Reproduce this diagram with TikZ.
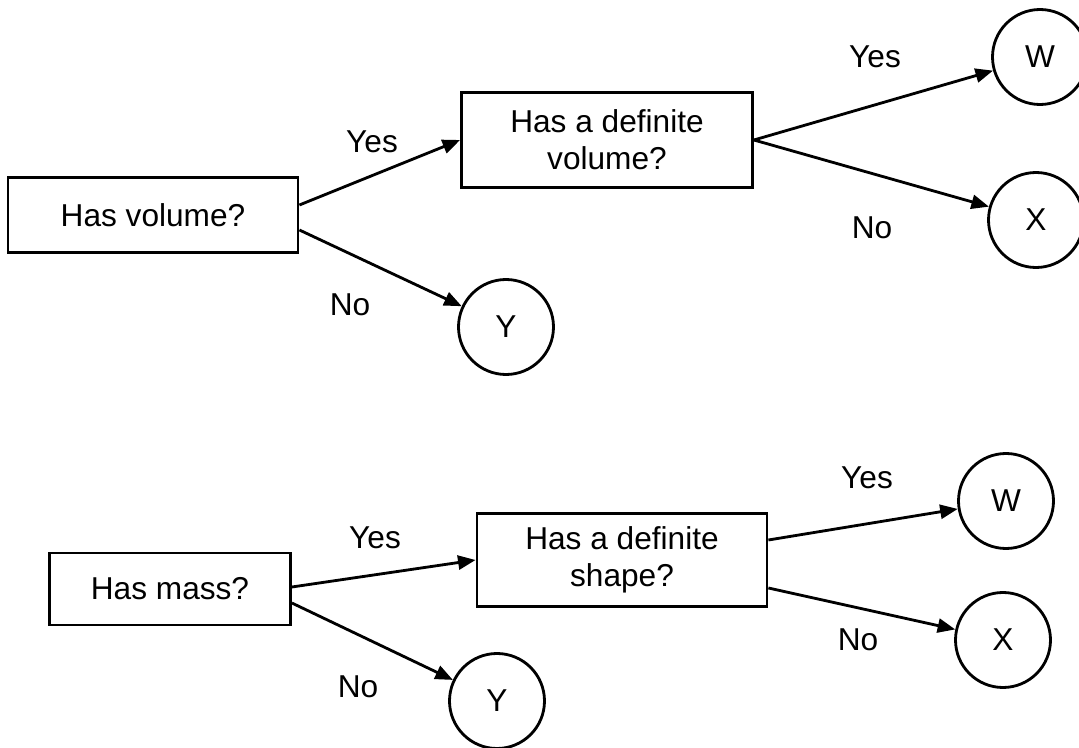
\documentclass[tikz,border=0pt]{standalone}
\usepackage{fontspec}
\setmainfont{Liberation Sans}
\usetikzlibrary{arrows.meta}
\tikzset{
  question/.style={draw,line width=0.8pt,minimum height=#1,inner sep=2pt,align=center},
  leaf/.style={draw,circle,line width=0.8pt,minimum size=0.95cm,inner sep=0pt},
  branch/.style={line width=0.8pt,-{Triangle[length=5pt,width=4pt]}},
  answer/.style={inner sep=1pt}
}
\begin{document}
\begin{tikzpicture}[font=\fontsize{9pt}{10.5pt}\selectfont]
    \useasboundingbox (0,0) rectangle (10.79,7.47);
    %first tree: volume
    \node[question=0.75cm,minimum width=2.90cm] (vol) at (1.53,5.32) {Has volume?};
    \node[question=0.95cm,minimum width=2.91cm] (defvol) at (6.07,6.07) {Has a definite\\volume?};
    \node[leaf] (w1) at (10.40,6.90) {W};
    \node[leaf] (x1) at (10.36,5.27) {X};
    \node[leaf] (y1) at (5.06,4.20) {Y};
    \draw[branch] ([yshift=0.10cm]vol.east) -- (defvol.west);
    \draw[branch] ([yshift=-0.15cm]vol.east) -- (y1);
    \draw[branch] (defvol.east) -- (w1);
    \draw[branch] (defvol.east) -- (x1);
    \node[answer] (yes1) at (3.72,6.05) {Yes};
    \node[answer] (no1) at (3.50,4.42) {No};
    \node[answer] (yes2) at (8.75,6.90) {Yes};
    \node[answer] (no2) at (8.72,5.19) {No};
    %second tree: mass
    \node[question=0.72cm,minimum width=2.41cm] (mass) at (1.70,1.58) {Has mass?};
    \node[question=0.93cm,minimum width=2.90cm] (defshape) at (6.22,1.87) {Has a definite\\shape?};
    \node[leaf] (w2) at (10.06,2.46) {W};
    \node[leaf] (x2) at (10.03,1.07) {X};
    \node[leaf] (y2) at (4.97,0.46) {Y};
    \draw[branch] ([yshift=0.02cm]mass.east) -- (defshape.west);
    \draw[branch] ([yshift=-0.14cm]mass.east) -- (y2);
    \draw[branch] ([yshift=0.20cm]defshape.east) -- (w2);
    \draw[branch] ([yshift=-0.28cm]defshape.east) -- (x2);
    \node[answer] (yes3) at (3.75,2.09) {Yes};
    \node[answer] (no3) at (3.58,0.60) {No};
    \node[answer] (yes4) at (8.67,2.69) {Yes};
    \node[answer] (no4) at (8.58,1.07) {No};
\end{tikzpicture}
\end{document}
